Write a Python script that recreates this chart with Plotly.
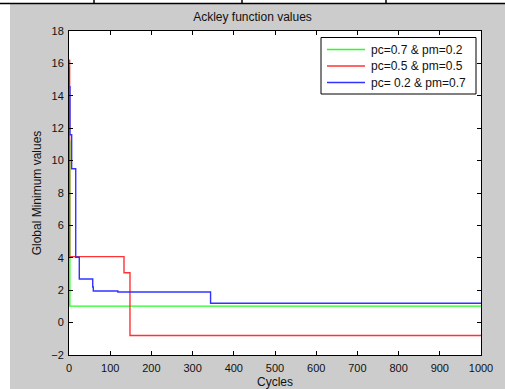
import plotly.graph_objects as go

# Data (step series)
green_x = [0, 2, 1000]
green_y = [11.2, 1.02, 1.02]

red_x = [0, 1.5, 133.5, 148, 1000]
red_y = [16.2, 4.07, 3.08, -0.8, -0.8]

blue_x = [0, 0, 2.4, 6.5, 16.3, 25, 57.6, 59, 118.6, 343.6, 1000]
blue_y = [15.8, 14.56, 11.6, 9.5, 4.03, 2.69, 2.2, 1.95, 1.89, 1.19, 1.19]

names = ["pc=0.7 & pm=0.2", "pc=0.5 & pm=0.5", "pc= 0.2 & pm=0.7"]
colors = ["#22ff22", "#ff3333", "#3333ff"]
x_ticks = [0, 100, 200, 300, 400, 500, 600, 700, 800, 900, 1000]
y_ticks = [-2, 0, 2, 4, 6, 8, 10, 12, 14, 16, 18]

W, H = 505, 389
L, R, T, B = 69, 24, 31, 34
pw, ph = W - L - R, H - T - B

def px(x):
    return (x - L) / pw

def py(y):
    return (H - B - y) / ph

fig = go.Figure()
for xs, ys, nm, col in [(green_x, green_y, names[0], colors[0]),
                        (red_x, red_y, names[1], colors[1]),
                        (blue_x, blue_y, names[2], colors[2])]:
    fig.add_trace(go.Scatter(x=xs, y=ys, mode="lines", line_shape="hv",
                             line=dict(color=col, width=1.4), name=nm, showlegend=False))

fam = "Liberation Sans, Arial, sans-serif"
font = dict(family=fam, size=11, color="#111")

axis_common = dict(showgrid=False, zeroline=False, showline=True, linecolor="black",
                   linewidth=1, mirror="allticks", ticks="inside", ticklen=4,
                   tickcolor="black", tickfont=font, automargin=False)

shapes = [
    # white strip at top
    dict(type="rect", xref="paper", yref="paper", x0=px(-5), x1=px(W + 5),
         y0=py(4), y1=py(-5), fillcolor="white", line_width=0, layer="below"),
    # white strip at left
    dict(type="rect", xref="paper", yref="paper", x0=px(-5), x1=px(10),
         y0=py(H + 5), y1=py(4), fillcolor="white", line_width=0, layer="below"),
    # black table line at top
    dict(type="line", xref="paper", yref="paper", x0=px(0), x1=px(W),
         y0=py(3.5), y1=py(3.5), line=dict(color="black", width=1.5)),
]
for vx in [94, 242, 386]:
    shapes.append(dict(type="line", xref="paper", yref="paper", x0=px(vx), x1=px(vx),
                       y0=py(0), y1=py(3.5), line=dict(color="black", width=1.5)))

# legend box (drawn manually to match the compact row spacing)
shapes.append(dict(type="rect", xref="paper", yref="paper", x0=px(321), x1=px(476),
                   y0=py(94), y1=py(37.5), fillcolor="white",
                   line=dict(color="black", width=1), layer="above"))
annotations = []
row_y = [49.5, 66, 82.5]
for i in range(3):
    shapes.append(dict(type="line", xref="paper", yref="paper", x0=px(327), x1=px(365),
                       y0=py(row_y[i]), y1=py(row_y[i]),
                       line=dict(color=colors[i], width=1.6), layer="above"))
    annotations.append(dict(text=names[i], xref="paper", yref="paper", x=px(369),
                            y=py(row_y[i]), xanchor="left", yanchor="middle",
                            showarrow=False, font=dict(size=12, family=fam, color="#111")))

fig.update_layout(
    width=W, height=H,
    margin=dict(l=L, r=R, t=T, b=B, pad=0),
    paper_bgcolor="#cccccc", plot_bgcolor="white",
    font=font,
    title=dict(text="Ackley function values", x=px(275), xanchor="center",
               y=1 - 17 / H, yanchor="middle", font=dict(size=12, family=fam, color="#111")),
    xaxis=dict(range=[0, 1000], tickvals=x_ticks, ticklabelstandoff=3, **axis_common,
               title=dict(text="Cycles", standoff=6, font=dict(size=12, family=fam, color="#111"))),
    yaxis=dict(range=[-2, 18], tickvals=y_ticks, ticklabelstandoff=2, **axis_common,
               title=dict(text="Global Minimum values", standoff=7, font=dict(size=12, family=fam, color="#111"))),
    shapes=shapes,
    annotations=annotations,
    showlegend=False,
)

fig.write_html("out.html")
